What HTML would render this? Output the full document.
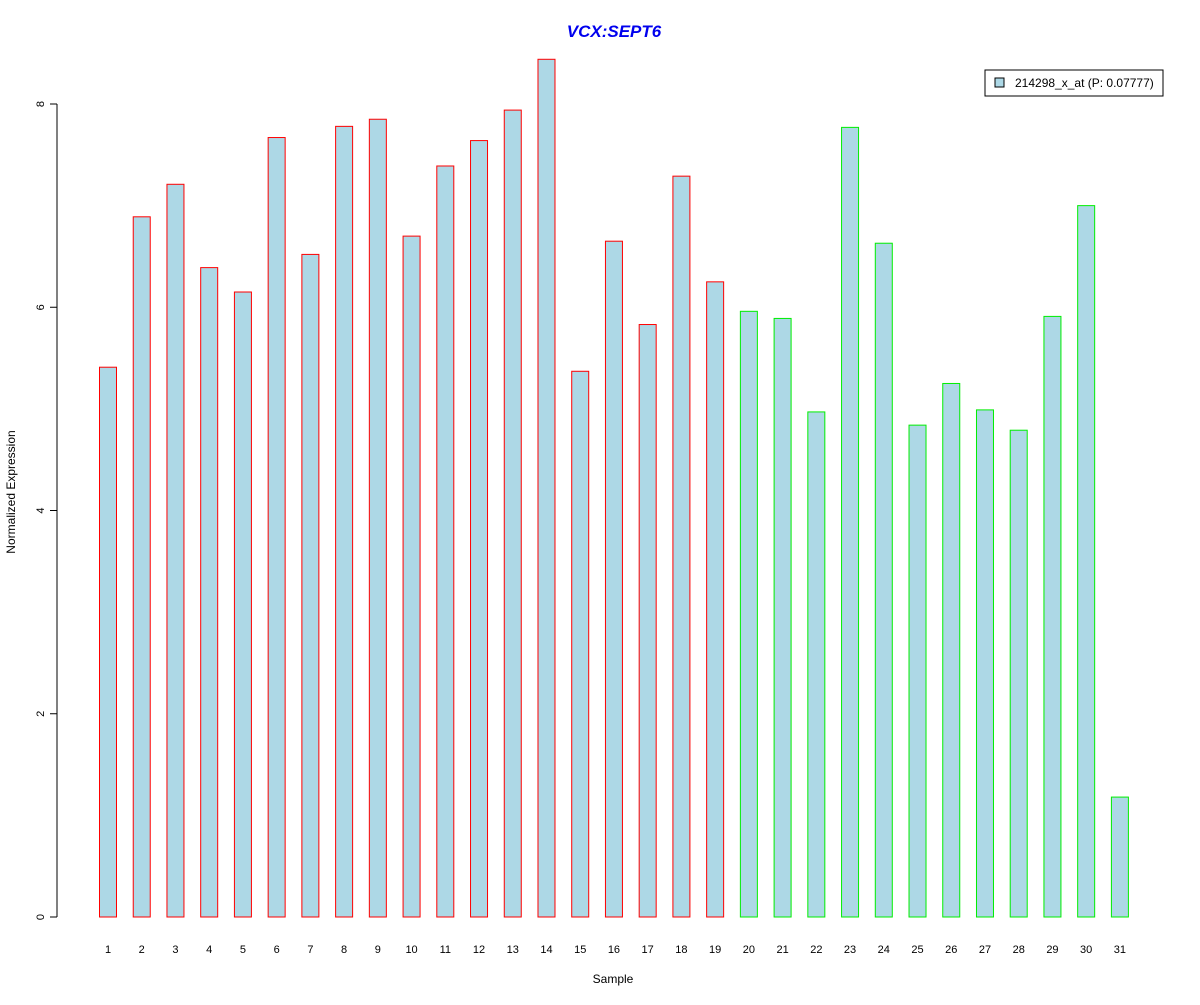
<!DOCTYPE html>
<html><head><meta charset="utf-8"><style>
body{margin:0;background:#fff}
svg text{font-family:"Liberation Sans",Arial,sans-serif}
</style></head><body>
<svg id="chart" width="1200" height="1000" xmlns="http://www.w3.org/2000/svg">
<text x="614" y="37" text-anchor="middle" font-size="17" font-weight="bold" font-style="italic" fill="#0000ee">VCX:SEPT6</text>
<text x="613" y="983" text-anchor="middle" font-size="12">Sample</text>
<text transform="translate(15,492) rotate(-90)" text-anchor="middle" font-size="12">Normalized Expression</text>
<g id="yaxis"></g>
<g id="bars"></g>
<g id="xlabels"></g>
<g>
<rect x="985" y="70" width="178" height="26" fill="#fff" stroke="#000"/>
<rect x="995" y="78" width="9" height="9" fill="#add8e6" stroke="#000"/>
<text x="1015" y="87" font-size="12">214298_x_at (P: 0.07777)</text>
</g>
</svg>
<script>
const categories=[1,2,3,4,5,6,7,8,9,10,11,12,13,14,15,16,17,18,19,20,21,22,23,24,25,26,27,28,29,30,31];
const values=[5.41,6.89,7.21,6.39,6.15,7.67,6.52,7.78,7.85,6.70,7.39,7.64,7.94,8.44,5.37,6.65,5.83,7.29,6.25,5.96,5.89,4.97,7.77,6.63,4.84,5.25,4.99,4.79,5.91,7.00,1.18];
const groups=["r","r","r","r","r","r","r","r","r","r","r","r","r","r","r","r","r","r","r","g","g","g","g","g","g","g","g","g","g","g","g"];
const yTicks=[0,2,4,6,8];
const NS="http://www.w3.org/2000/svg";
function y(v){return 917-v*101.625;}
function x(i){return 108+i*33.73;}
const ya=document.getElementById('yaxis');
const al=document.createElementNS(NS,'line');
al.setAttribute('x1',57);al.setAttribute('x2',57);al.setAttribute('y1',y(0));al.setAttribute('y2',y(8));al.setAttribute('stroke','#000');
ya.appendChild(al);
yTicks.forEach(t=>{
 const l=document.createElementNS(NS,'line');
 
 
 l.setAttribute('x1',50);l.setAttribute('x2',57);l.setAttribute('y1',y(t));l.setAttribute('y2',y(t));l.setAttribute('stroke','#000');
 ya.appendChild(l);
 const tx=document.createElementNS(NS,'text');
 
 
 tx.setAttribute('transform','translate(44,'+y(t)+') rotate(-90)');
 tx.setAttribute('text-anchor','middle');tx.setAttribute('font-size','11');
 tx.textContent=t;ya.appendChild(tx);
});
const bg=document.getElementById('bars'),xl=document.getElementById('xlabels');
values.forEach((v,i)=>{
 const r=document.createElementNS(NS,'rect');
 
 
 r.setAttribute('x',x(i)-8.5);r.setAttribute('width',17);
 r.setAttribute('y',y(v));r.setAttribute('height',y(0)-y(v));
 r.setAttribute('fill','#add8e6');r.setAttribute('stroke',groups[i]=='r'?'#ff0000':'#00ee00');
 bg.appendChild(r);
 const t=document.createElementNS(NS,'text');
 
 
 t.setAttribute('x',x(i));t.setAttribute('y',953);t.setAttribute('text-anchor','middle');t.setAttribute('font-size','11');
 t.textContent=categories[i];xl.appendChild(t);
});
</script>
</body></html>
